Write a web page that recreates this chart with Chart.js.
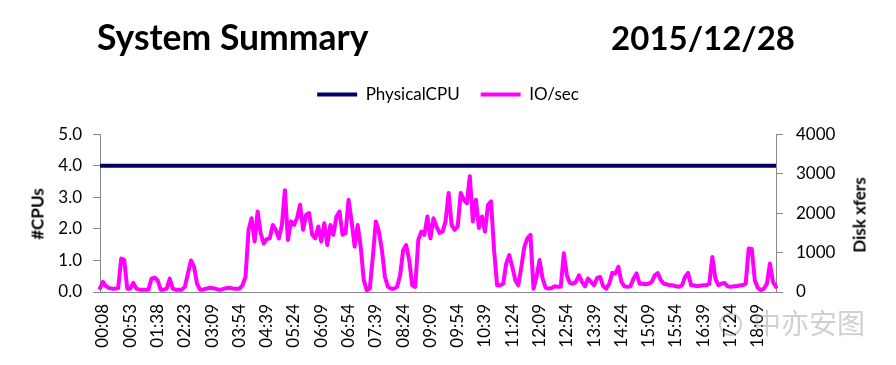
<!DOCTYPE html>
<html>
<head>
<meta charset="utf-8">
<script src="https://cdn.jsdelivr.net/npm/chart.js@4.4.0/dist/chart.umd.min.js"></script>
<style>
  html, body { margin: 0; padding: 0; background: #fff; }
  #wrap { position: relative; width: 896px; height: 365px; overflow: hidden; font-family: Lato, "Open Sans", sans-serif; }
  canvas { position: absolute; left: 0; top: 0; }
  .title { position: absolute; font-weight: bold; line-height: 1.2; color: #000; white-space: nowrap; }
  .axis-title { position: absolute; font-size: 17px; font-weight: bold; color: #000; white-space: nowrap;
                transform: translate(-50%, -50%) rotate(-90deg); }
  .mark { position: absolute; left: 753px; top: 302px; font-family: "Noto Sans CJK SC", sans-serif; font-size: 28px;
          color: rgba(150, 150, 150, 0.45); white-space: nowrap; }
  .mark-icon { position: absolute; left: 719px; top: 313px; width: 19px; height: 19px; border-radius: 50%;
               border: 2px solid rgba(150, 150, 150, 0.45); }
</style>
</head>
<body>
<div id="wrap">
  <canvas id="myChart" width="896" height="365"></canvas>
  <div class="title" style="left:97px; top:16px; font-size:35.5px">System Summary</div>
  <div class="title" style="right:101px; top:18px; font-size:33px">2015/12/28</div>
  <div class="axis-title" style="left:37px; top:214px">#CPUs</div>
  <div class="axis-title" style="left:859px; top:215px">Disk xfers</div>
  <div class="mark-icon"></div>
  <div class="mark">中亦安图</div>
</div>
<script>
// tick labels shown every 9th sample (roughly 5 min samples)
const tickLabels = ['00:08', '00:53', '01:38', '02:23', '03:09', '03:54', '04:39', '05:24', '06:09',
  '06:54', '07:39', '08:24', '09:09', '09:54', '10:39', '11:24', '12:09', '12:54', '13:39',
  '14:24', '15:09', '15:54', '16:39', '17:24', '18:09'];

// IO/sec (right axis, Disk xfers)
const ioPerSec = [
  100, 255, 145, 100, 85, 85, 100, 850, 810, 85, 85, 230, 85, 60, 60, 60,
  60, 340, 365, 300, 60, 60, 85, 340, 85, 60, 60, 60, 130, 470, 800, 650,
  210, 60, 60, 85, 100, 100, 85, 60, 60, 85, 100, 100, 85, 85, 85, 170,
  380, 1570, 1870, 1280, 2040, 1490, 1230, 1340, 1360, 1700, 1575, 1360, 1700, 2580, 1320, 1790,
  1700, 1870, 2210, 1575, 1960, 2000, 1450, 1360, 1660, 1280, 1745, 1190, 1700, 1450, 1915, 2040,
  1450, 1490, 2340, 1790, 1150, 1700, 1150, 300, 45, 85, 890, 1790, 1530, 1060, 380, 130,
  85, 85, 130, 425, 1060, 1190, 810, 170, 130, 1320, 1530, 1450, 1915, 1360, 1870, 1660,
  1500, 1530, 1790, 2510, 1700, 1575, 1660, 2510, 2340, 2250, 2935, 1790, 2340, 1620, 1915, 1530,
  2210, 2300, 1060, 170, 170, 210, 720, 935, 640, 300, 170, 640, 1150, 1360, 1450, 85,
  380, 810, 340, 110, 85, 100, 145, 130, 130, 980, 425, 230, 210, 255, 425, 255,
  145, 340, 255, 170, 355, 380, 145, 85, 210, 485, 470, 640, 255, 145, 130, 145,
  340, 470, 210, 210, 195, 210, 255, 420, 480, 300, 210, 195, 170, 170, 145, 130,
  170, 380, 485, 170, 170, 145, 160, 170, 170, 210, 890, 340, 170, 210, 230, 145,
  130, 145, 145, 170, 170, 210, 1105, 1090, 300, 110, 45, 85, 210, 720, 255, 130
];

// PhysicalCPU is flat at 4.0 for the whole day (first and last sample)
const physicalCPU = [4.0, 4.0];

// sample times: each tick label followed by 5 minute steps
const categories = [];
tickLabels.forEach(t => {
  const p = t.split(':').map(Number);
  for (let k = 0; k < 9; k++) {
    const m = p[0] * 60 + p[1] + k * 5;
    categories.push(String(Math.floor(m / 60)).padStart(2, '0') + ':' + String(m % 60).padStart(2, '0'));
  }
});
categories.length = ioPerSec.length;

Chart.defaults.font.family = 'Lato, "Open Sans", sans-serif';
Chart.defaults.font.size = 17;
Chart.defaults.color = '#000';

const navy = '#000066';
const pink = '#ff00ff';

var ctx = document.getElementById('myChart').getContext('2d');
var myChart = new Chart(ctx, {
  type: 'line',
  data: {
    labels: categories,
    datasets: [{
      label: 'PhysicalCPU',
      data: [{x: categories[0], y: physicalCPU[0]}, {x: categories[categories.length - 1], y: physicalCPU[1]}],
      yAxisID: 'y',
      borderColor: navy,
      backgroundColor: navy,
      borderWidth: 4,
      pointRadius: 0,
      tension: 0
    },
    {
      label: 'IO/sec',
      data: ioPerSec,
      yAxisID: 'y1',
      borderColor: pink,
      backgroundColor: pink,
      borderWidth: 4,
      borderJoinStyle: 'round',
      borderCapStyle: 'round',
      pointRadius: 0,
      tension: 0
    }]
  },
  options: {
    responsive: false,
    animation: false,
    devicePixelRatio: 1,
    layout: { padding: { top: 65, left: 0, right: 0, bottom: 0 } },
    plugins: {
      tooltip: { enabled: false },
      legend: {
        position: 'top',
        labels: {
          boxWidth: 40,
          boxHeight: 4,
          padding: 21,
          generateLabels: function (chart) {
            return Chart.defaults.plugins.legend.labels.generateLabels(chart).map(function (it) {
              it.lineWidth = 0;
              return it;
            });
          }
        }
      },
      // empty spacer between legend and plot
      title: { display: true, text: '', weight: 500, font: { size: 1 }, padding: { top: 0, bottom: 20 } }
    },
    scales: {
      x: {
        type: 'category',
        offset: false,
        grid: { display: false },
        border: { display: true, color: '#888', width: 1 },
        ticks: {
          autoSkip: false,
          maxRotation: 90,
          minRotation: 90,
          padding: 4,
          labelOffset: 3,
          callback: function (v, i) { return i % 9 === 0 ? tickLabels[i / 9] : ''; }
        },
        afterFit: function (s) { s.height = 73; }
      },
      y: {
        position: 'left',
        min: 0,
        max: 5,
        grid: { drawOnChartArea: false, color: '#888', tickLength: 7 },
        border: { display: true, color: '#888', width: 1 },
        ticks: { stepSize: 1, padding: 11, callback: function (v) { return v.toFixed(1); } },
        afterFit: function (s) { s.width = 100; }
      },
      y1: {
        position: 'right',
        min: 0,
        max: 4000,
        grid: { drawOnChartArea: false, color: '#888', tickLength: 7 },
        border: { display: true, color: '#888', width: 1 },
        ticks: { stepSize: 1000, padding: 13, callback: function (v) { return String(v); } },
        afterFit: function (s) { s.width = 120; }
      }
    }
  }
});
</script>
</body>
</html>
